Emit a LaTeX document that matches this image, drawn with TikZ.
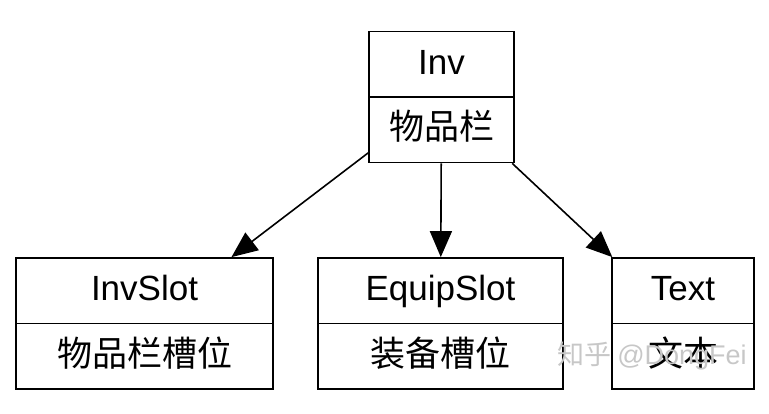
\documentclass[tikz,border=0pt]{standalone}
\usepackage{fontspec}
\setmainfont{Liberation Sans}
\newfontfamily\cjk{Noto Sans CJK SC}
\usetikzlibrary{shapes.multipart,arrows.meta}

\tikzset{
  classbox/.style={draw, line width=1.6pt, rectangle split, rectangle split parts=2,
    inner xsep=4pt, inner ysep=0pt, font=\fontsize{35}{40}\selectfont},
  link/.style={line width=1.6pt, -{Triangle[length=26pt,width=22pt]}},
  watermark/.style={text=black!22, font=\fontsize{27}{30}\selectfont}
}
\newcommand{\partstrut}{\rule[-22pt]{0pt}{64pt}}

\begin{document}
\begin{tikzpicture}[x=1pt,y=-1pt]
                \useasboundingbox (0,0) rectangle (769,413);
                \node [classbox, minimum width=145pt] (inv) at (441.5,97) {\partstrut Inv\nodepart{two}\partstrut\cjk 物品栏};
                \node [classbox, minimum width=257pt] (invslot) at (144.5,323.5) {\partstrut InvSlot\nodepart{two}\partstrut\cjk 物品栏槽位};
                \node [classbox, minimum width=245pt] (equipslot) at (440.5,323.5) {\partstrut EquipSlot\nodepart{two}\partstrut\cjk 装备槽位};
                \node [classbox, minimum width=142pt] (text) at (683,323.5) {\partstrut Text\nodepart{two}\partstrut\cjk 文本};
                \draw [link] (inv) -- (invslot);
                \draw [link] (inv) -- (equipslot);
                \draw [link] (inv) -- (text);
                \node [watermark] (mark) at (652,356) {\cjk 知乎\ \rmfamily @DongFei};
            \end{tikzpicture}
\end{document}
